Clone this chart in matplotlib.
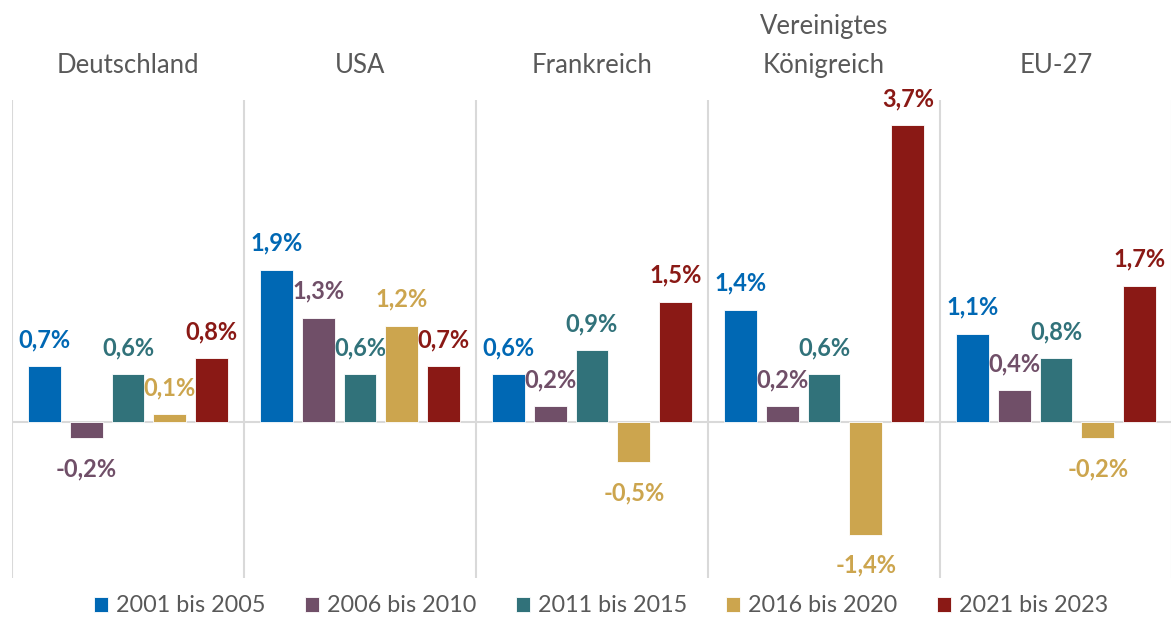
import numpy as np
import matplotlib.pyplot as plt

plt.rcParams['font.family'] = ['Lato', 'DejaVu Sans']

laender = ['Deutschland', 'USA', 'Frankreich', 'Vereinigtes\nKönigreich', 'EU-27']
zeitraeume = ['2001 bis 2005', '2006 bis 2010', '2011 bis 2015', '2016 bis 2020', '2021 bis 2023']
farben = ['#0068B4', '#704F68', '#31727A', '#CCA54E', '#8A1915']

w_2001_2005 = [0.7, 1.9, 0.6, 1.4, 1.1]
w_2006_2010 = [-0.2, 1.3, 0.2, 0.2, 0.4]
w_2011_2015 = [0.6, 0.6, 0.9, 0.6, 0.8]
w_2016_2020 = [0.1, 1.2, -0.5, -1.4, -0.2]
w_2021_2023 = [0.8, 0.7, 1.5, 3.7, 1.7]
serien = [w_2001_2005, w_2006_2010, w_2011_2015, w_2016_2020, w_2021_2023]

fig = plt.figure(figsize=(11.71, 6.19), dpi=100)
ax = fig.add_axes([12 / 1171, 41 / 619, 1160 / 1171, 478 / 619])

x = np.arange(len(laender))
abstand = 0.1806
breite = 0.142

for i, (werte, name, farbe) in enumerate(zip(serien, zeitraeume, farben)):
    pos = x + (i - 2) * abstand
    ax.bar(pos, werte, breite, color=farbe, edgecolor='white', linewidth=0.6, label=name, zorder=3)
    for px, v in zip(pos, werte):
        txt = f'{v:.1f}%'.replace('.', ',')
        off = 19 if v >= 0 else -22
        ax.annotate(txt, (px, v), xytext=(0, off), textcoords='offset points',
                    ha='center', va='center', color=farbe, fontsize=17, fontweight='bold')

ax.set_xlim(-0.5, 4.5)
ax.set_ylim(-1.94, 4.01)
ax.axhline(0, color='#D9D9D9', linewidth=1.5, zorder=1)
for s in np.arange(-0.5, 5, 1.0):
    ax.axvline(s, color='#D9D9D9', linewidth=1.5, zorder=1)

# Laendernamen oberhalb der Achse, letzte Zeile auf gleicher Hoehe
for xi, land in zip(x, laender):
    ax.annotate(land, (xi, 1.0), xycoords=('data', 'axes fraction'),
                xytext=(0, 16), textcoords='offset points',
                ha='center', va='bottom', fontsize=18.5, color='#595959',
                linespacing=1.7)

for sp in ax.spines.values():
    sp.set_visible(False)
ax.set_xticks([])
ax.set_yticks([])

ax.legend(loc='center', bbox_to_anchor=(589 / 1160, -28 / 478), ncol=5, frameon=False,
          fontsize=16.8, labelcolor='#595959', handlelength=0.6, handleheight=0.6,
          handletextpad=0.35, columnspacing=1.68)

fig.savefig('out.png', dpi=100)
